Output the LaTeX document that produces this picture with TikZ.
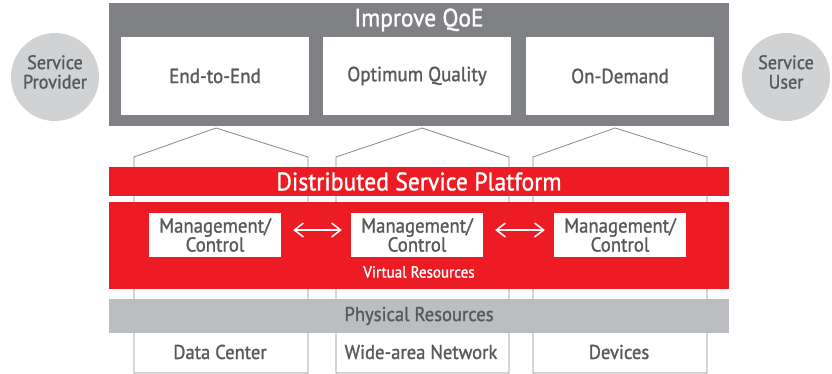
\documentclass[tikz,border=0pt]{standalone}
\usepackage{fontspec}
\setmainfont{PT Sans}[FakeStretch=0.93,FakeBold=1.2]
\usetikzlibrary{arrows.meta}
\definecolor{topgray}{HTML}{808184}
\definecolor{fredred}{HTML}{ED1C24}
\definecolor{circgray}{HTML}{D1D2D4}
\definecolor{physgray}{HTML}{BCBDC0}
\definecolor{txtgray}{HTML}{58595B}
\definecolor{linegray}{HTML}{8A8A8D}
\begin{document}
\begin{tikzpicture}[x=1pt,y=-1pt,
  qbox/.style={fill=white,draw=none,minimum width=188pt,minimum height=78pt,inner sep=0pt,text=txtgray,font=\fontsize{20.4}{22}\selectfont},
  mbox/.style={fill=white,draw=none,minimum width=132pt,minimum height=44pt,inner sep=0pt,text=txtgray,align=center,font=\fontsize{20.2}{19}\selectfont},
  circ/.style={circle,fill=circgray,minimum size=88pt,inner sep=0pt},
  ctxt/.style={text=txtgray,align=center,inner sep=0pt,font=\fontsize{19.5}{19.5}\selectfont},
  col/.style={draw=linegray,line width=0.8pt,fill=white},
  btxt/.style={text=txtgray,font=\fontsize{20}{22}\selectfont},
  arr/.style={white,line width=1.5pt,{Straight Barb[length=9pt,width=14pt]}-{Straight Barb[length=9pt,width=14pt]},shorten <=12pt,shorten >=9pt}
]
\useasboundingbox (0,0) rectangle (832,374);
% columns
\draw[col] (134,373) -- (134,157) -- (216,128) -- (308,157) -- (308,373) -- cycle;
\draw[col] (336,373) -- (336,157) -- (422,128) -- (509,157) -- (509,373) -- cycle;
\draw[col] (533,373) -- (533,157) -- (615,128) -- (707,157) -- (707,373) -- cycle;
% top gray box
\fill[topgray] (109,3) rectangle (729,126);
\node[text=white,font=\fontsize{25.2}{27}\selectfont] (qoe) at (419,20) {Improve QoE};
\node[qbox] (e2e) at (215,76) {End-to-End};
\node[qbox] (oq) at (417,76) {Optimum Quality};
\node[qbox] (od) at (620,76) {On-Demand};
% circles
\node[circ] (sp) at (55,77) {};
\node[ctxt] (spt) at (55,72) {Service\\Provider};
\node[circ] (su) at (786,77) {};
\node[ctxt] (sut) at (786,72) {Service\\User};
% distributed service platform
\fill[fredred] (109,167) rectangle (729,196);
\node[text=white,font=\fontsize{25.5}{27}\selectfont] (dsp) at (419,181.5) {Distributed Service Platform};
% virtual resources box
\fill[fredred] (109,202) rectangle (729,289);
\node[mbox] (m1) at (215,235) {Management/\\Control};
\node[mbox] (m2) at (417,235) {Management/\\Control};
\node[mbox] (m3) at (620,235) {Management/\\Control};
\draw[arr] (m1.east |- 0,230) -- (m2.west |- 0,230);
\draw[arr] (m2.east |- 0,230) -- (m3.west |- 0,230);
\node[text=white,font=\fontsize{16.2}{18}\selectfont] (vr) at (419,272) {Virtual Resources};
% physical resources
\fill[physgray] (109,299) rectangle (729,333);
\node[btxt] (pr) at (419,316) {Physical Resources};
\node[btxt] (dc) at (220,352) {Data Center};
\node[btxt] (wan) at (421,352) {Wide-area Network};
\node[btxt] (dev) at (619,352) {Devices};
\end{tikzpicture}
\end{document}
